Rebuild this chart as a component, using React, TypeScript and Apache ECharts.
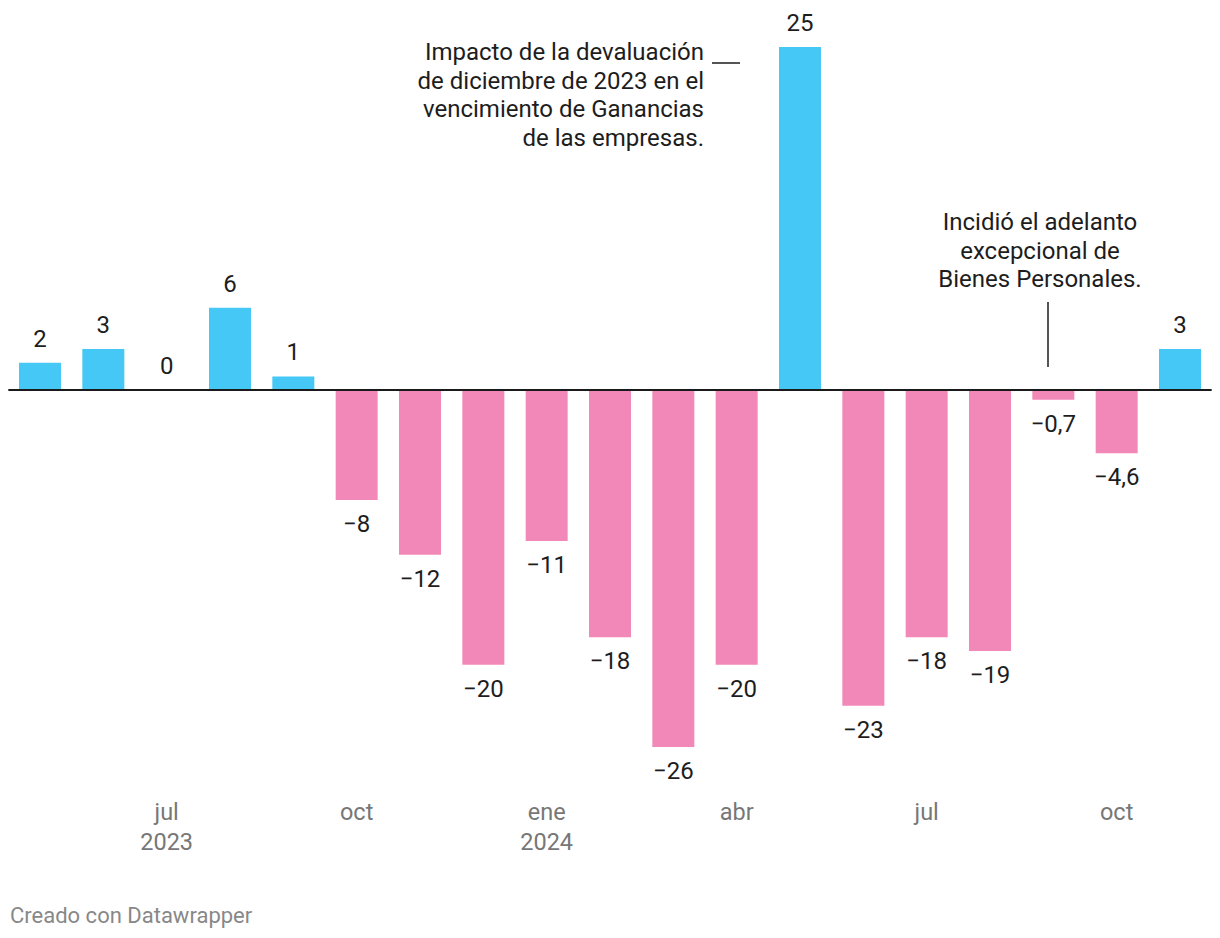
import React, { useEffect, useRef } from 'react';
import * as echarts from 'echarts';

const months = [
  'may 2023', 'jun 2023', 'jul 2023', 'ago 2023', 'sep 2023', 'oct 2023', 'nov 2023', 'dic 2023',
  'ene 2024', 'feb 2024', 'mar 2024', 'abr 2024', 'may 2024', 'jun 2024', 'jul 2024', 'ago 2024',
  'sep 2024', 'oct 2024', 'nov 2024',
];
const values = [2, 3, 0, 6, 1, -8, -12, -20, -11, -18, -26, -20, 25, -23, -18, -19, -0.7, -4.6, 3];
const tickLabels: Record<number, string> = {
  2: 'jul\n2023',
  5: 'oct',
  8: 'ene\n2024',
  11: 'abr',
  14: 'jul',
  17: 'oct',
};
const annotationDevaluacion = 'Impacto de la devaluación\nde diciembre de 2023 en el\nvencimiento de Ganancias\nde las empresas.';
const annotationBienes = 'Incidió el adelanto\nexcepcional de\nBienes Personales.';
const footer = 'Creado con Datawrapper';

const POS = '#45c8f5';
const NEG = '#f288b8';
const FONT = 'Roboto, "Noto Sans", sans-serif';

function fmt(v: number): string {
  const s = String(Math.abs(v)).replace('.', ',');
  return v < 0 ? '\u2212' + s : s;
}

export default function App() {
  const ref = useRef<HTMLDivElement>(null);
  useEffect(() => {
    if (!ref.current) return;
    const chart = echarts.init(ref.current, null, { renderer: 'svg' });
    chart.setOption({
      animation: false,
      grid: { left: 8.33, right: 8.33, top: 47, bottom: 191, containLabel: false },
      xAxis: {
        type: 'category',
        data: months,
        axisLine: { show: false },
        axisTick: { show: false },
        splitLine: { show: false },
        axisLabel: {
          interval: 0,
          formatter: (_v: string, i: number) => tickLabels[i] ?? '',
          margin: 50,
          lineHeight: 30,
          fontSize: 23.5,
          color: '#777',
          fontFamily: FONT,
        },
      },
      yAxis: {
        type: 'value',
        min: -26,
        max: 25,
        show: false,
        splitLine: { show: false },
      },
      series: [
        {
          type: 'bar',
          barWidth: 42,
          data: values.map((v) => ({
            value: v,
            itemStyle: { color: v > 0 ? POS : NEG },
            label: { position: v < 0 ? 'bottom' : 'top' },
          })),
          label: {
            show: true,
            distance: 12,
            fontSize: 24,
            color: '#1d1d1d',
            fontFamily: FONT,
            formatter: (p: any) => fmt(p.value),
          },
          markLine: {
            silent: true,
            symbol: ['none', 'none'],
            label: { show: false },
            lineStyle: { color: '#1a1a1a', width: 2, type: 'solid' },
            data: [{ yAxis: 0 }],
          },
        },
      ],
      graphic: [
        {
          type: 'text',
          x: 704,
          y: 38,
          style: {
            text: annotationDevaluacion,
            fill: '#1d1d1d',
            font: `24px ${FONT}`,
            lineHeight: 28.5,
            align: 'right',
            verticalAlign: 'top',
          },
        },
        {
          type: 'line',
          shape: { x1: 712, y1: 63, x2: 740, y2: 63 },
          style: { stroke: '#1d1d1d', lineWidth: 1.5 },
        },
        {
          type: 'text',
          x: 1040,
          y: 208,
          style: {
            text: annotationBienes,
            fill: '#1d1d1d',
            font: `24px ${FONT}`,
            lineHeight: 28.5,
            align: 'center',
            verticalAlign: 'top',
          },
        },
        {
          type: 'line',
          shape: { x1: 1048, y1: 302, x2: 1048, y2: 367 },
          style: { stroke: '#1d1d1d', lineWidth: 1.5 },
        },
        {
          type: 'text',
          x: 10,
          y: 915,
          style: {
            text: footer,
            fill: '#888',
            font: `22px ${FONT}`,
            align: 'left',
            verticalAlign: 'middle',
          },
        },
      ],
    });
    return () => chart.dispose();
  }, []);
  return (
    <div
      ref={ref}
      style={{ position: 'fixed', left: 0, top: 0, width: 1220, height: 938, background: '#fff' }}
    />
  );
}
